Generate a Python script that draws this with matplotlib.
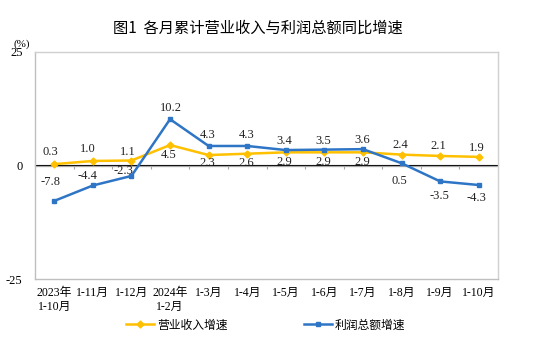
import matplotlib
matplotlib.use('Agg')
import matplotlib.pyplot as plt
from matplotlib.lines import Line2D

plt.rcParams['font.family'] = ['Liberation Serif', 'Noto Sans CJK SC']

# data
categories = ['2023年\n1-10月', '1-11月', '1-12月', '2024年\n1-2月', '1-3月', '1-4月',
              '1-5月', '1-6月', '1-7月', '1-8月', '1-9月', '1-10月']
revenue = [0.3, 1.0, 1.1, 4.5, 2.3, 2.6, 2.9, 2.9, 2.9, 2.4, 2.1, 1.9]
profit = [-7.8, -4.4, -2.3, 10.2, 4.3, 4.3, 3.4, 3.5, 3.6, 0.5, -3.5, -4.3]

# label offsets in pixels (dx, dy)
rev_offsets = [(-4, 12), (-5, 12), (-4, 9), (-1, -10), (-1, -8), (-1, -9), (-1, -10),
               (-1, -10), (-1, -10), (-1, 10), (-2, 10), (-2, 9)]
prof_offsets = [(-4, 19), (-5, 9), (-8, 5), (1, 11), (-1, 11), (-1, 11), (-2, 9),
                (-1, 9), (-1, 9), (-2, -18), (-1, -15), (-2, -13)]

gold = '#FFC000'
blue = '#2E75C6'

fig = plt.figure(figsize=(5.43, 3.52), dpi=100)
ax = fig.add_axes([35/543, 1 - 279/352, 463/543, 227/352])

x = list(range(len(categories)))
ax.plot(x, revenue, color=gold, lw=1.8, marker='D', ms=3.5, zorder=3)
ax.plot(x, profit, color=blue, lw=1.8, marker='s', ms=3.5, zorder=3)

for xi, v, off in zip(x, revenue, rev_offsets):
    ax.annotate(f'{v:.1f}', (xi, v), xytext=off, textcoords='offset pixels',
                ha='center', va='center', fontsize=9, color='#222222')
for xi, v, off in zip(x, profit, prof_offsets):
    ax.annotate(f'{v:.1f}', (xi, v), xytext=off, textcoords='offset pixels',
                ha='center', va='center', fontsize=9, color='#222222')

ax.set_xlim(-0.5, len(categories) - 0.5)
ax.set_ylim(-25, 25)
ax.set_yticks([-25, 0, 25])
ax.set_yticklabels(['-25', '0', '25'], fontsize=9)
ax.tick_params(axis='y', length=0, pad=9)
ax.set_xticks(x)
ax.set_xticklabels(categories, fontsize=8.5, linespacing=1.2)
ax.tick_params(axis='x', length=0, pad=6)

for s in ax.spines.values():
    s.set_color('#d0d0d0')
    s.set_linewidth(1)
ax.spines['left'].set_color('#bfbfbf')
ax.spines['bottom'].set_color('#bfbfbf')

# zero axis with small category ticks
ax.axhline(0, color='#a6a6a6', lw=0.9, zorder=1)
sec = ax.secondary_xaxis(0.5)
sec.set_xticks([i + 0.5 for i in x[:-1]])
sec.set_xticklabels([])
sec.tick_params(axis='x', direction='in', length=3, color='#a6a6a6')
sec.spines['bottom'].set_visible(False)

fig.text(258/543, 1 - 28/352, '图1  各月累计营业收入与利润总额同比增速',
         ha='center', va='center', fontsize=11, family=['Noto Sans CJK SC'])
fig.text(22/543, 1 - 44/352, '(%)', ha='center', va='center', fontsize=8)

handles = [Line2D([], [], color=gold, lw=1.8, marker='D', ms=3.5),
           Line2D([], [], color=blue, lw=1.8, marker='s', ms=3.5)]
fig.legend(handles, ['营业收入增速', '利润总额增速'], loc='center',
           bbox_to_anchor=(266/543, 1 - 325/352), ncol=2, frameon=False,
           handlelength=2.3, columnspacing=6.5, handletextpad=0.3,
           prop={'family': ['Noto Sans CJK SC'], 'size': 8.5})

fig.savefig('out.png', dpi=100)
